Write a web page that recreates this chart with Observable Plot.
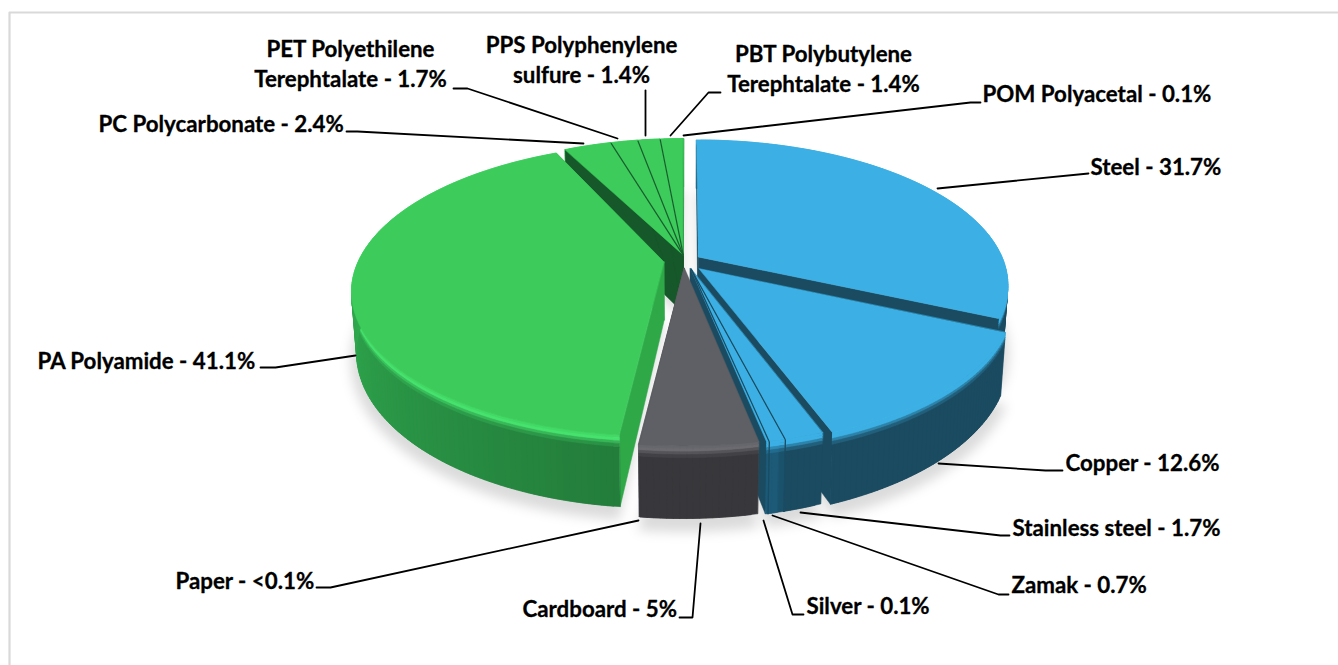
<!DOCTYPE html>
<html><head><meta charset="utf-8">
<script src="https://cdn.jsdelivr.net/npm/d3@7"></script>
<script src="https://cdn.jsdelivr.net/npm/@observablehq/plot@0.6"></script>
<style>html,body{margin:0;padding:0;background:#fff;overflow:hidden}svg{display:block}</style>
</head><body><div id="chart"></div>
<script>
// ---- data ----
const names = ["Steel","Copper","Stainless steel","Zamak","Silver","Cardboard","Paper","PA Polyamide","PC Polycarbonate","PET","PPS","PBT","POM"];
const values = [31.7,12.6,1.7,0.7,0.1,5,0.05,41.1,2.4,1.7,1.4,1.4,0.1];
const groups = ["metal","metal","metal","metal","metal","fibre","fibre","plastic","plastic","plastic","plastic","plastic","plastic"];
const labels = ["Steel - 31.7%","Copper - 12.6%","Stainless steel - 1.7%","Zamak - 0.7%","Silver - 0.1%","Cardboard - 5%","Paper - <0.1%","PA Polyamide - 41.1%","PC Polycarbonate - 2.4%","PET Polyethilene\nTerephtalate - 1.7%","PPS Polyphenylene\nsulfure - 1.4%","PBT Polybutylene\nTerephtalate - 1.4%","POM Polyacetal - 0.1%"];

// ---- layout and style (not data) ----
const W = 1338, H = 665;
const explode = [.04,.07,.06,.06,.06,.06,.06,.08,.04,.04,.04,.04,.04];
const explodeDir = [null,150,172,172,172,192,192,null,335,335,335,335,335];
const startNudge = [0,0,0,0,0,0,0,-.8,-2,0,0,0,0];
const pie = {cx:688, cy:260, R:305, tilt:.46, k:.19, wall:58, shrink:.015, rot:0};
const palette = {
  metal:  {top:"#3cb0e4", hl:"#3cb0e4", wallA:"#1b4b61", wallB:"#1c5a78", cut:"#1b4b61"},
  fibre:  {top:"#5f6065", hl:"#6b6b70", wallA:"#38383c", wallB:"#38383c", cut:"#56565b"},
  plastic:{top:"#3dcc5b", hl:"#47e26e", wallA:"#237d3b", wallB:"#34b855", cut:"#17582a"}
};
const labelPos = [
 {x:1090,y:167,a:"start"},{x:1065,y:463,a:"start"},{x:1012,y:528,a:"start"},{x:1011,y:585,a:"start"},
 {x:806,y:606,a:"start"},{x:522,y:609,a:"start"},{x:175,y:581,a:"start"},{x:37,y:361,a:"start"},
 {x:98,y:124,a:"start"},{x:350,y:62,a:"middle"},{x:581,y:58,a:"middle"},{x:823,y:67,a:"middle"},{x:982,y:94,a:"start"}];
const leaders = [
 [[937,188],[1088,173]],
 [[938,463],[1045,470],[1062,470]],
 [[800,512],[1000,535],[1009,535]],
 [[772,515],[998,594],[1008,594]],
 [[763,520],[792,614],[803,614]],
 [[700,523],[692,617],[679,617]],
 [[638,520],[330,587],[316,587]],
 [[355,355],[275,367],[260,367]],
 [[583,143],[357,131],[346,131]],
 [[617,138],[467,88],[453,88]],
 [[645,135],[645,90]],
 [[670,135],[708,92],[720,92]],
 [[683,135],[970,102],[980,102]]
];
const frame = [[9,666],[9,12],[1338,12]];

// ---- geometry: perspective projection of the extruded pie ----
const rad = d => d*Math.PI/180;
function project(X, Z, h) {
  const s = 1/(1 - pie.k*Z);
  const q = 1 - pie.shrink*h;
  return [pie.cx + pie.R*X*s*q, pie.cy + pie.R*pie.tilt*Z*s + pie.wall*h*s];
}
const total = d3.sum(values);
let acc = 0;
const slices = values.map((v,i) => {
  const a0 = pie.rot + acc/total*360 + startNudge[i]; acc += v;
  const a1 = pie.rot + acc/total*360;
  const dir = rad(explodeDir[i] ?? (a0+a1)/2);
  return {i, a0, a1, ox:explode[i]*Math.sin(dir), oz:-explode[i]*Math.cos(dir), g:palette[groups[i]], group:groups[i]};
});
const rim = (s,a,r=1) => [s.ox + r*Math.sin(rad(a)), s.oz - r*Math.cos(rad(a))];
let pid = 0;
const polys = [];
function quad(pairs, c) {
  const id = pid++;
  for (const [p,q] of pairs) polys.push({id, x1:p[0], y1:p[1], x2:q[0], y2:q[1], c});
}
const mix = (a,b,t) => d3.interpolateRgb(a,b)(t);
const clamp = t => Math.max(0,Math.min(1,t));
const arcOf = s => d3.range(0, Math.ceil(s.a1-s.a0)+1).map(j => Math.min(s.a0+j, s.a1));
function wallT(s,a) {
  if (s.group==="plastic") return clamp((a-186)/(292-186));
  if (s.group==="metal") return clamp((a-165)/(166.5-165));
  return 0;
}
function drawCuts(s) {
  for (const a of [s.a0, s.a1]) {
    const r = rim(s,a);
    const cut = s.i===7 ? "#2fa848" : s.g.cut;
    quad([[project(s.ox,s.oz,0),project(s.ox,s.oz,1)],[project(r[0],r[1],0),project(r[0],r[1],1)]], cut);
  }
}
function drawWall(s) {
  const g = s.g;
  const arc = arcOf(s);
  const bands = [0,.04,.08,.12,.17,1];
  for (let j=0;j<arc.length-1;j++) {
    const a = arc[j];
    const b = Math.min(arc[j+1]+1, s.a1);   // overlap neighbours so no seam shows
    const wall = mix(g.wallA,g.wallB,wallT(s,a));
    const cols = [mix(g.top,g.hl,.6), g.hl, mix(g.hl,wall,.45), mix(g.hl,wall,.8), wall];
    const A = rim(s,a), B = rim(s,b);
    cols.forEach((c,n) => quad([
      [project(A[0],A[1],bands[n]),project(A[0],A[1],bands[n+1])],
      [project(B[0],B[1],bands[n]),project(B[0],B[1],bands[n+1])]], c));
  }
}
function drawTop(s) {
  const apex = project(s.ox,s.oz,0);
  quad(arcOf(s).map(a => { const r = rim(s,a); return [project(r[0],r[1],0), apex]; }), s.g.top);
}
// small back slices: all walls, then all cuts, then all tops
const backGroup = [8,9,10,11,12];
backGroup.forEach(i => drawWall(slices[i]));
backGroup.forEach(i => drawCuts(slices[i]));
backGroup.forEach(i => drawTop(slices[i]));
for (const i of [7,0,1,2,3,4,6,5]) { drawCuts(slices[i]); drawWall(slices[i]); drawTop(slices[i]); }

// thin dark dividers between neighbouring small slices, carried down the wall on the front ones
const dividers = [];
for (const i of [3,4,9,10,11]) {
  const s = slices[i];
  const r = rim(s,s.a0), p = project(s.ox,s.oz,0), q = project(r[0],r[1],0);
  dividers.push({x1:p[0],y1:p[1],x2:q[0],y2:q[1],c:s.group==="plastic"?"#1a5e2e":"#1b4b61"});
  if (s.group==="metal") {
    const b = project(r[0],r[1],1);
    dividers.push({x1:q[0],y1:q[1],x2:b[0],y2:b[1],c:"#1b4b61"});
  }
}

// ground shadow
const shadow = [];
for (const s of slices) {
  const apex = project(s.ox,s.oz,1.12);
  d3.range(s.a0, s.a1+1, 1).concat([s.a1]).forEach(a => {
    const r = rim(s,a,1.02), p = project(r[0],r[1],1.12);
    shadow.push({id:s.i,x1:p[0],y1:p[1],x2:apex[0],y2:apex[1]});
  });
}

const leaderRows = leaders.flatMap((pts,id) => pts.map(([x,y]) => ({id,x,y})));
const labelRows = labels.map((text,i) => ({text,...labelPos[i]}));
const textStyle = {fill:"#000",stroke:"#000",strokeWidth:.3,fontWeight:700,fontSize:22.3,fontFamily:"Lato"};

const plot = Plot.plot({
  width:W, height:H, margin:0,
  x:{domain:[0,W],range:[0,W],axis:null},
  y:{domain:[0,H],range:[0,H],axis:null},
  color:{type:"identity"},
  marks:[
    Plot.line(frame,{x:d=>d[0],y:d=>d[1],stroke:"#d9d9d9",strokeWidth:2.2}),
    Plot.area(shadow,{x1:"x1",y1:"y1",x2:"x2",y2:"y2",z:"id",fill:"#000",fillOpacity:.14,imageFilter:"blur(6px)"}),
    Plot.area(polys,{x1:"x1",y1:"y1",x2:"x2",y2:"y2",z:"id",fill:"c",stroke:"c",strokeWidth:.5}),
    Plot.link(dividers,{x1:"x1",y1:"y1",x2:"x2",y2:"y2",stroke:"c",strokeWidth:1.2}),
    Plot.line(leaderRows,{x:"x",y:"y",z:"id",stroke:"#000",strokeWidth:1.8}),
    Plot.text(labelRows.filter(d=>d.a==="start"),{x:"x",y:"y",text:"text",textAnchor:"start",...textStyle}),
    Plot.text(labelRows.filter(d=>d.a==="middle"),{x:"x",y:"y",text:"text",textAnchor:"middle",lineHeight:1.345,...textStyle})
  ]
});
document.getElementById("chart").append(plot);
</script></body></html>
